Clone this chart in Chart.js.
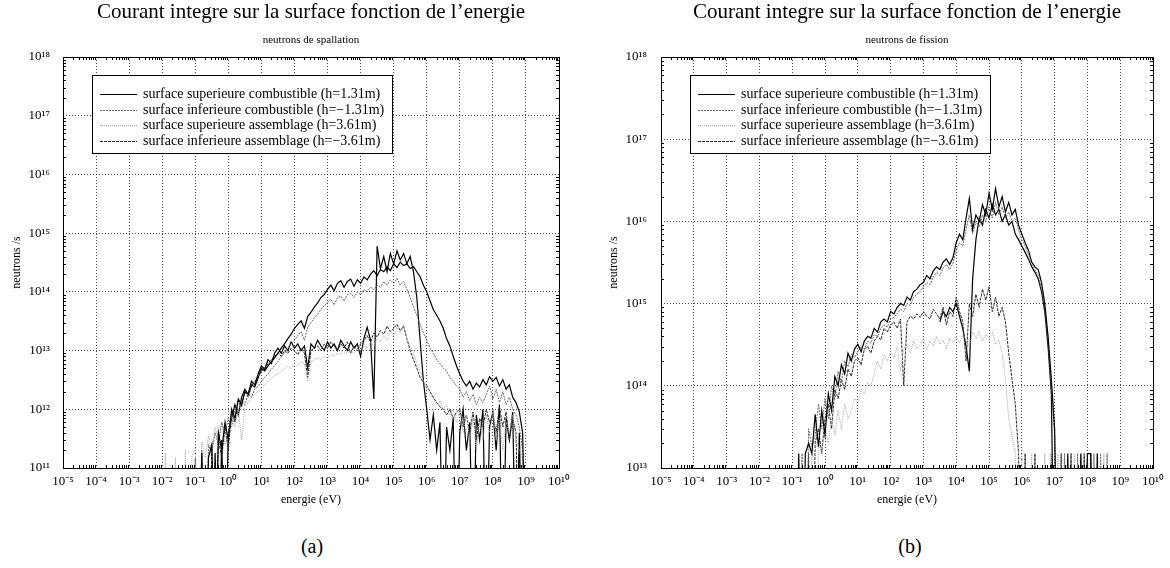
<!DOCTYPE html>
<html>
<head>
<meta charset="utf-8">
<script src="https://cdn.jsdelivr.net/npm/chart.js@4"></script>
<style>
  body { margin: 0; background: #fff; width: 1170px; height: 568px; position: relative; overflow: hidden; }
  canvas { position: absolute; top: 0; }
  #chartA { left: 0; }
  #chartB { left: 585px; }
  .panel { position: absolute; top: 535px; width: 60px; text-align: center; font: 20px "Liberation Serif", serif; color: #000; }
</style>
</head>
<body>
<canvas id="chartA" width="585" height="520"></canvas>
<canvas id="chartB" width="585" height="520"></canvas>
<div class="panel" style="left:282px">(a)</div>
<div class="panel" style="left:880px">(b)</div>
<script>
// energy grid, 10 points per decade, 1e-2 .. 1e9 eV
const energies = [
  1e-2,1.26e-2,1.58e-2,2e-2,2.51e-2,3.16e-2,3.98e-2,5.01e-2,6.31e-2,7.94e-2,
  1e-1,1.26e-1,1.58e-1,2e-1,2.51e-1,3.16e-1,3.98e-1,5.01e-1,6.31e-1,7.94e-1,
  1,1.26,1.58,2,2.51,3.16,3.98,5.01,6.31,7.94,
  1e1,1.26e1,1.58e1,2e1,2.51e1,3.16e1,3.98e1,5.01e1,6.31e1,7.94e1,
  1e2,1.26e2,1.58e2,2e2,2.51e2,3.16e2,3.98e2,5.01e2,6.31e2,7.94e2,
  1e3,1.26e3,1.58e3,2e3,2.51e3,3.16e3,3.98e3,5.01e3,6.31e3,7.94e3,
  1e4,1.26e4,1.58e4,2e4,2.51e4,3.16e4,3.98e4,5.01e4,6.31e4,7.94e4,
  1e5,1.26e5,1.58e5,2e5,2.51e5,3.16e5,3.98e5,5.01e5,6.31e5,7.94e5,
  1e6,1.26e6,1.58e6,2e6,2.51e6,3.16e6,3.98e6,5.01e6,6.31e6,7.94e6,
  1e7,1.26e7,1.58e7,2e7,2.51e7,3.16e7,3.98e7,5.01e7,6.31e7,7.94e7,
  1e8,1.26e8,1.58e8,2e8,2.51e8,3.16e8,3.98e8,5.01e8,6.31e8,7.94e8,
  1e9
];

const xTickValues = [1e-5,1e-4,1e-3,1e-2,1e-1,1,1e1,1e2,1e3,1e4,1e5,1e6,1e7,1e8,1e9,1e10];
const xTickLabels = ['10⁻⁵','10⁻⁴','10⁻³','10⁻²','10⁻¹','10⁰','10¹','10²','10³','10⁴','10⁵','10⁶','10⁷','10⁸','10⁹','10¹⁰'];
const yTicksA = [1e11,1e12,1e13,1e14,1e15,1e16,1e17,1e18];
const yLabelsA = ['10¹¹','10¹²','10¹³','10¹⁴','10¹⁵','10¹⁶','10¹⁷','10¹⁸'];
const yTicksB = [1e13,1e14,1e15,1e16,1e17,1e18];
const yLabelsB = ['10¹³','10¹⁴','10¹⁵','10¹⁶','10¹⁷','10¹⁸'];

const seriesNames = [
  'surface superieure combustible (h=1.31m)',
  'surface inferieure combustible (h=\u22121.31m)',
  'surface superieure assemblage (h=3.61m)',
  'surface inferieure assemblage (h=\u22123.61m)',
  ''
];

// (a) neutrons de spallation, neutrons/s (0 = no count)
const spalSupComb = [
  0,0,0,0,0,0,0,0,0,0,
  0,0,1.8e11,0,1.5e11,2.5e11,0,4e11,2e11,6e11,
  3e11,1e12,7e11,1.5e12,1.2e12,2e12,1.8e12,2.6e12,2.4e12,3.4e12,
  5e12,4.5e12,5.5e12,6.5e12,7.5e12,9e12,1.1e13,1.3e13,1.6e13,1.9e13,
  2.4e13,2.8e13,3.2e13,2.4e13,3.8e13,4.5e13,5.5e13,6.5e13,8e13,9e13,
  1.1e14,1.3e14,1.05e14,1.4e14,1.55e14,1.2e14,1.5e14,1.65e14,1.25e14,1.6e14,
  1.4e14,1.8e14,1.6e14,2e14,2.3e14,1.9e14,2.4e14,2.2e14,2.7e14,2.3e14,
  3e14,2.6e14,3.2e14,2.8e14,3e14,2.5e14,2.7e14,2.2e14,1.8e14,1.3e14,
  1e14,7e13,5e13,4e13,3.2e13,2.4e13,1.6e13,1.2e13,8e12,5.5e12,
  4e12,3e12,2.5e12,3e12,2.2e12,2.8e12,2.4e12,3.2e12,2.6e12,3.6e12,
  3e12,3.5e12,2.5e12,3.2e12,2.2e12,2.6e12,1.6e12,1.3e12,9e11,4e11,
  0
];
const spalInfComb = [
  0,0,0,0,0,0,0,0,0,0,
  1.5e11,0,2e11,0,2.5e11,1.8e11,4e11,2.5e11,6e11,4e11,
  7e11,5e11,1e12,9e11,1.4e12,1.2e12,1.8e12,1.6e12,2.2e12,2.5e12,
  3e12,3.5e12,4e12,4.8e12,5.5e12,6.5e12,8e12,9e12,1.1e13,1.3e13,
  1.5e13,1.8e13,2.1e13,1.5e13,2.5e13,3e13,3.6e13,4.2e13,5e13,5.8e13,
  6.5e13,7.5e13,6e13,8e13,8.5e13,7e13,9e13,9.5e13,8e13,1e14,
  9e13,1.1e14,1e14,1.2e14,1.1e14,1.3e14,1.2e14,1.5e14,1.3e14,1.6e14,
  1.4e14,1.7e14,1.3e14,1.5e14,1.1e14,8e13,5.5e13,4e13,2.8e13,2e13,
  1.5e13,1.1e13,9e12,7e12,6e12,5e12,4.5e12,3.5e12,3e12,2.5e12,
  2.2e12,1.6e12,2e12,1.4e12,1.8e12,1.2e12,1.6e12,1.3e12,1.8e12,2.5e12,
  1.5e12,2.2e12,1.3e12,2e12,1.2e12,1.6e12,1e12,8e11,5e11,2e11,
  0
];
const spalSupAss = [
  0,1.8e11,0,0,1.5e11,0,0,2e11,0,1.6e11,
  2.2e11,0,2.8e11,1.5e11,3.5e11,2e11,5e11,3e11,6e11,2.5e11,
  4e11,8e11,5e11,1e12,3e11,1.1e12,1.3e12,1.6e12,1.8e12,2e12,
  2.3e12,2.6e12,3e12,3.3e12,3.8e12,4e12,4.5e12,5e12,5.5e12,5e12,
  6e12,5.5e12,6.5e12,6e12,3e12,6.5e12,7e12,7.5e12,7e12,8e12,
  7.5e12,8.5e12,8e12,9e12,8.5e12,9.5e12,9e12,1e13,9e12,1.1e13,
  1e13,1.2e13,1.1e13,1.4e13,1.2e13,1.6e13,1.4e13,1.8e13,1.5e13,2.2e13,
  1.8e13,2.5e13,2e13,2.8e13,1.6e13,1.2e13,9e12,6e12,4.5e12,3e12,
  2.2e12,1.8e12,1.5e12,1.2e12,1.4e12,1e12,1.2e12,8e11,1e12,6e11,
  9e11,4e11,8e11,3e11,7e11,2e11,6e11,3e11,8e11,4e11,
  9e11,3e11,7e11,2e11,6e11,4e11,8e11,3e11,2e11,1.5e11,
  0
];
const spalInfAss = [
  0,0,0,0,0,0,0,0,0,0,
  0,0,0,0,0,2e11,0,3e11,1.5e11,5e11,
  2e11,9e11,6e11,1.4e12,1.1e12,2e12,1.6e12,2.5e12,3e12,3.5e12,
  4.5e12,5e12,6e12,7e12,8e12,9e12,8e12,1e13,9e12,1.1e13,
  1e13,8.5e12,1.1e13,9e12,3.5e12,1e13,1.1e13,1.2e13,1e13,1.3e13,
  1.1e13,1.4e13,1.2e13,1e13,1.3e13,1.1e13,1.4e13,9e12,1.2e13,1e13,
  1.3e13,1.5e13,1.8e13,1.4e13,2e13,1.7e13,2.2e13,1.9e13,2.6e13,2.1e13,
  2.4e13,2.8e13,2.2e13,2.6e13,1.6e13,1e13,7e12,5e12,3.5e12,2.8e12,
  2.5e12,2e12,1.6e12,1.3e12,1.1e12,1e12,8e11,1e12,7e11,9e11,
  1e12,5e11,8e11,4e11,9e11,3e11,7e11,5e11,1e12,6e11,
  8e11,4e11,1.1e12,5e11,9e11,3e11,7e11,4e11,0,0,
  0
];
const spalExtra = [
  0,0,0,0,0,0,0,0,0,0,
  0,0,0,0,0,0,1.8e11,0,3e11,0,
  4e11,7e11,1.2e12,8e11,1.6e12,2.2e12,1.8e12,3e12,2.6e12,4e12,
  5.5e12,4.8e12,7e12,6e12,9e12,1.1e13,9e12,1.2e13,1e13,1.4e13,
  1.1e13,1.3e13,1e13,1.2e13,5e12,1.3e13,1.1e13,1.5e13,1.2e13,1e13,
  1.4e13,1.1e13,1.3e13,1e13,1.5e13,1.2e13,1e13,1.4e13,1.1e13,1.3e13,
  8e12,1.6e13,2.5e13,1.5e13,1.5e12,6e14,2.5e14,4e14,2.2e14,4.5e14,
  3e14,5e14,3.5e14,4.5e14,3e14,4e14,2.2e14,8e13,1.5e13,3e12,
  1e12,3e11,8e11,2e11,6e11,0,5e11,2e11,7e11,0,
  4e11,1e12,2e11,6e11,0,8e11,3e11,1e12,0,5e11,
  9e11,2e11,1.2e12,0,7e11,3e11,9e11,0,4e11,0,
  0
];

// (b) neutrons de fission
const fissSupComb = [
  0,0,0,0,0,0,0,0,0,0,
  0,0,1.5e13,0,1.5e13,2e13,1.5e13,4.5e13,1.8e13,5e13,
  2.5e13,8e13,5e13,1.3e14,1e14,1.8e14,1.4e14,2.5e14,2e14,2.8e14,
  3.2e14,2.6e14,3.5e14,4e14,3.8e14,5e14,4.5e14,6e14,6.5e14,6e14,
  8e14,7.5e14,9e14,1e15,9.5e14,1.2e15,1.1e15,1.4e15,1.5e15,1.7e15,
  1.8e15,2.2e15,2e15,2.5e15,2.8e15,2.6e15,3.2e15,3.5e15,3e15,3.6e15,
  5.5e15,7e15,6e15,1.1e16,1.9e16,8e15,1.2e16,1e16,1.6e16,1.2e16,
  2.2e16,1.4e16,2.5e16,1.5e16,2e16,1.3e16,1.7e16,1.2e16,1.4e16,9e15,
  7e15,5.5e15,4.5e15,3.2e15,2.8e15,2.6e15,1.8e15,1e15,4e14,1.2e14,
  3e13,0,0,0,1.5e13,0,0,0,1.5e13,0,
  1.5e13,1.5e13,0,1.5e13,0,0,0,0,0,0,
  0
];
const fissInfComb = [
  0,0,0,0,0,0,0,0,0,0,
  0,0,0,1.5e13,0,3e13,1.8e13,2.5e13,6e13,3e13,
  7e13,4e13,1e14,7e13,1.5e14,1.1e14,2e14,1.7e14,2.4e14,2.2e14,
  2.6e14,3e14,2.8e14,3.5e14,3.3e14,4.2e14,4e14,5e14,5.5e14,5.2e14,
  6.5e14,6.8e14,7.5e14,8.5e14,8e14,1e15,9.5e14,1.2e15,1.3e15,1.4e15,
  1.6e15,1.8e15,1.7e15,2.1e15,2.4e15,2.2e15,2.7e15,3e15,2.6e15,3.1e15,
  4.5e15,5.5e15,5e15,8e15,1.2e16,7e15,1e16,8.5e15,1.2e16,1e16,
  1.5e16,1.1e16,1.7e16,1.2e16,1.5e16,1.1e16,1.3e16,1e16,1.1e16,8e15,
  6e15,5e15,4e15,3e15,2.6e15,2.2e15,1.5e15,9e14,3.5e14,1e14,
  2.5e13,0,0,1.5e13,0,1.5e13,0,1.5e13,0,0,
  1.5e13,0,1.5e13,0,1.5e13,0,1.5e13,0,0,0,
  0
];
const fissSupAss = [
  0,0,0,0,0,0,0,0,0,0,
  0,0,0,0,0,0,1.5e13,0,2e13,1.5e13,
  3e13,2e13,4e13,2.5e13,5e13,3e13,6e13,4e13,5e13,7e13,
  6e13,9e13,8e13,1.1e14,1e14,1.4e14,2e14,1.6e14,2.4e14,2e14,
  2.6e14,2.2e14,3e14,1.5e14,2.8e14,3.2e14,2.5e14,3.5e14,2.8e14,3.2e14,
  3.8e14,2.7e14,3.5e14,3e14,4e14,3.2e14,3.6e14,2.8e14,3.8e14,3.4e14,
  4e14,3.3e14,4.2e14,3.6e14,3e14,4.5e14,3.8e14,4.6e14,3.5e14,4.2e14,
  3.8e14,4.5e14,3.2e14,3.6e14,2.5e14,1.2e14,4e13,2.5e13,1.5e13,0,
  1.5e13,0,0,1.5e13,0,0,0,1.5e13,0,1.5e13,
  0,1.5e13,0,1.5e13,0,0,1.5e13,0,1.5e13,0,
  1.5e13,0,0,1.5e13,0,1.5e13,0,0,0,0,
  0
];
const fissInfAss = [
  0,0,0,0,0,0,0,0,0,0,
  0,0,0,0,0,1.5e13,0,2e13,3e13,1.5e13,
  4e13,6e13,3e13,9e13,7e13,1.2e14,9e13,1.6e14,1.3e14,2e14,
  2.2e14,1.8e14,2.8e14,3e14,2.5e14,3.5e14,4e14,3.6e14,5e14,4.5e14,
  5.5e14,6e14,5e14,6.5e14,1e14,6e14,7e14,6.5e14,7.5e14,6.8e14,
  8e14,7e14,6.5e14,8.5e14,7.5e14,6.5e14,9e14,5.5e14,8e14,7e14,
  1.2e15,8e14,6e14,2e14,1e15,7e14,1.3e15,9e14,1.5e15,1.1e15,
  1.6e15,8e14,1.2e15,7e14,9e14,6e14,2.5e14,1.2e14,6e13,1.5e13,
  0,1.5e13,0,0,1.5e13,0,0,0,0,1.5e13,
  0,0,1.5e13,0,0,1.5e13,0,0,0,1.5e13,
  0,1.5e13,0,0,0,0,0,0,0,0,
  0
];
const fissExtra = [
  null,null,null,null,null,null,null,null,null,null,
  null,null,null,null,null,null,null,null,null,null,
  null,null,null,null,null,null,null,null,null,null,
  null,null,null,null,null,null,null,null,null,null,
  null,null,null,null,null,null,null,null,null,null,
  null,null,null,null,null,6e14,8e14,7e14,9e14,8e14,
  1e15,7e14,5e14,3e14,1.5e14,2e15,6e15,1.1e16,9e15,1.4e16,
  1.1e16,1.6e16,1.2e16,1.4e16,1e16,1.2e16,9e15,1e16,7e15,6e15,
  5e15,4.2e15,3.5e15,2.8e15,2.4e15,2e15,1.4e15,8e14,3e14,8e13,
  0,null,null,null,null,null,null,null,null,null,
  null,null,null,null,null,null,null,null,null,null,
  null
];

const lineStyles = [
  { color: '#000000', dash: [], width: 1.2 },
  { color: '#6a6a6a', dash: [2, 1], width: 1 },
  { color: '#a8a8a8', dash: [1, 1], width: 1 },
  { color: '#2a2a2a', dash: [3, 1], width: 1 },
  { color: '#000000', dash: [], width: 1.2 }
];

const serif = "'Liberation Serif', 'Times New Roman', serif";

// plot frame with small log ticks on the four sides
const framePlugin = {
  id: 'frame',
  afterDraw(chart) {
    const { ctx, chartArea: a, scales: { x, y } } = chart;
    ctx.save();
    ctx.strokeStyle = '#000';
    ctx.lineWidth = 1;
    ctx.setLineDash([]);
    ctx.beginPath();
    for (let k = -5; k < 10; k++) {
      for (let m = 2; m < 10; m++) {
        const px = Math.round(x.getPixelForValue(m * Math.pow(10, k))) + 0.5;
        ctx.moveTo(px, a.bottom); ctx.lineTo(px, a.bottom - 3);
        ctx.moveTo(px, a.top); ctx.lineTo(px, a.top + 3);
      }
    }
    const k0 = Math.round(Math.log10(y.min)), k1 = Math.round(Math.log10(y.max));
    for (let k = k0; k < k1; k++) {
      for (let m = 2; m < 10; m++) {
        const py = Math.round(y.getPixelForValue(m * Math.pow(10, k))) + 0.5;
        ctx.moveTo(a.left, py); ctx.lineTo(a.left + 3, py);
        ctx.moveTo(a.right, py); ctx.lineTo(a.right - 3, py);
      }
    }
    ctx.stroke();
    ctx.strokeRect(Math.round(a.left) + 0.5, Math.round(a.top) + 0.5,
      Math.round(a.right - a.left), Math.round(a.bottom - a.top));
    ctx.restore();
  }
};

// boxed legend inside the plot, top left
const boxLegend = {
  id: 'boxLegend',
  afterDraw(chart, args, opts) {
    const { ctx, chartArea: a } = chart;
    const items = chart.data.datasets.filter(d => d.label);
    const x0 = Math.round(a.left + opts.dx), y0 = Math.round(a.top + opts.dy);
    ctx.save();
    ctx.fillStyle = '#fff';
    ctx.fillRect(x0, y0, opts.w, opts.h);
    ctx.strokeStyle = '#000';
    ctx.lineWidth = 1;
    ctx.strokeRect(x0 + 0.5, y0 + 0.5, opts.w, opts.h);
    ctx.font = '14px ' + serif;
    ctx.textBaseline = 'middle';
    items.forEach((d, i) => {
      const yy = Math.round(y0 + opts.first + i * opts.step) + 0.5;
      ctx.strokeStyle = d.borderColor;
      ctx.lineWidth = 1;
      ctx.setLineDash(d.borderDash);
      ctx.beginPath();
      ctx.moveTo(x0 + 8, yy);
      ctx.lineTo(x0 + 45, yy);
      ctx.stroke();
      ctx.fillStyle = '#000';
      ctx.fillText(d.label, x0 + 51, yy);
    });
    ctx.restore();
  }
};

function makePanel(canvasId, subtitle, series, yTicks, yLabels, geo) {
  const floorValue = yTicks[0] / 100; // zero counts fall below the axis
  new Chart(document.getElementById(canvasId), {
    type: 'line',
    data: {
      datasets: series.map((s, i) => ({
        label: seriesNames[i],
        data: s.map((v, k) => ({ x: energies[k], y: v === 0 ? floorValue : v })),
        borderColor: lineStyles[i].color,
        borderDash: lineStyles[i].dash,
        borderWidth: lineStyles[i].width,
        pointRadius: 0,
        tension: 0,
        fill: false
      }))
    },
    options: {
      responsive: false,
      animation: false,
      devicePixelRatio: 1,
      layout: { padding: { left: 0, right: geo.padRight, top: 0, bottom: 13 } },
      plugins: {
        legend: { display: false },
        tooltip: { enabled: false },
        title: {
          display: true, fullSize: false, color: '#000',
          text: 'Courant integre sur la surface fonction de l\u2019energie',
          font: { family: serif, size: 21, weight: 'normal', lineHeight: 1.2 },
          padding: { top: 0, bottom: 3 }
        },
        subtitle: {
          display: true, fullSize: false, color: '#000', text: subtitle,
          font: { family: serif, size: 11, weight: 'normal', lineHeight: 1.2 },
          padding: { top: 5.2, bottom: 10.4 }
        },
        boxLegend: { dx: 29, dy: 18, w: 300, h: 78, first: 19, step: 15.5 }
      },
      scales: {
        x: {
          type: 'logarithmic', min: xTickValues[0], max: xTickValues[xTickValues.length - 1],
          afterBuildTicks: s => { s.ticks = xTickValues.map(v => ({ value: v })); },
          afterFit: s => { s.height = 39; },
          ticks: {
            autoSkip: false, maxRotation: 0, padding: 6, color: '#000',
            font: { family: serif, size: 13 },
            callback: (v, i) => xTickLabels[i]
          },
          grid: { color: 'rgba(0,0,0,0.7)', lineWidth: 1, drawTicks: false },
          border: { display: false, dash: [1, 2] },
          title: {
            display: true, text: 'energie (eV)', color: '#000',
            font: { family: serif, size: 12, lineHeight: 1.2 }, padding: 0
          }
        },
        y: {
          type: 'logarithmic', min: yTicks[0], max: yTicks[yTicks.length - 1],
          afterBuildTicks: s => { s.ticks = yTicks.map(v => ({ value: v })); },
          afterFit: s => { s.width = geo.yWidth; },
          ticks: {
            autoSkip: false, padding: geo.tickPad, color: '#000',
            font: { family: serif, size: 13 },
            callback: (v, i) => yLabels[i]
          },
          grid: { color: 'rgba(0,0,0,0.7)', lineWidth: 1, drawTicks: false },
          border: { display: false, dash: [1, 2] },
          title: {
            display: true, text: 'neutrons /s', color: '#000',
            font: { family: serif, size: 12, lineHeight: 1.2 },
            padding: { top: geo.titlePad, bottom: 0 }
          }
        }
      }
    },
    plugins: [framePlugin, boxLegend]
  });
}

makePanel('chartA', 'neutrons de spallation',
  [spalSupComb, spalInfComb, spalSupAss, spalInfAss, spalExtra],
  yTicksA, yLabelsA, { yWidth: 63, padRight: 26, tickPad: 13, titlePad: 10 });

makePanel('chartB', 'neutrons de fission',
  [fissSupComb, fissInfComb, fissSupAss, fissInfAss, fissExtra],
  yTicksB, yLabelsB, { yWidth: 76, padRight: 13, tickPad: 14, titlePad: 22 });
</script>
</body>
</html>
